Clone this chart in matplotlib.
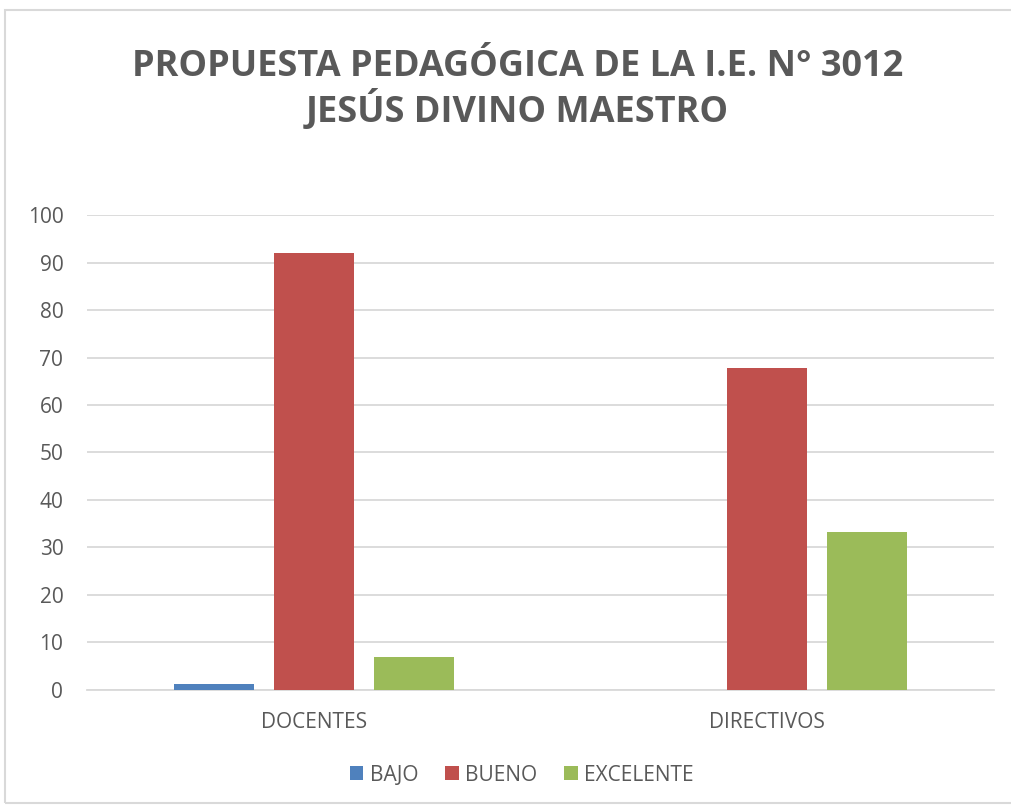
import matplotlib.pyplot as plt
import numpy as np
from matplotlib.patches import Rectangle

categories = ["DOCENTES", "DIRECTIVOS"]
series = ["BAJO", "BUENO", "EXCELENTE"]
bajo = [1.3, 0]
bueno = [92, 67.7]
excelente = [7, 33.3]
yticks = list(range(0, 101, 10))

colors = ["#4F81BD", "#C0504D", "#9BBB59"]
text_color = "#595959"
font = "Open Sans"

fig = plt.figure(figsize=(10.11, 8.05), dpi=100)
ax = fig.add_axes([0.086, 0.1429, 0.897, 0.590])

# chart border (Excel style)
fig.patches.append(Rectangle((0.005, 0.003), 1.2, 0.984, transform=fig.transFigure,
                             fill=False, edgecolor="#D9D9D9", linewidth=1.5))

x = np.arange(len(categories))
offsets = [-0.2205, 0, 0.2205]
width = 0.176
for vals, off, col, name in zip([bajo, bueno, excelente], offsets, colors, series):
    ax.bar(x + off, vals, width=width, color=col, label=name, zorder=3)

ax.set_xlim(-0.5, 1.5)
ax.set_ylim(0, 100)
ax.set_yticks(yticks)
ax.yaxis.grid(True, color="#D9D9D9", linewidth=1.3, zorder=0)
ax.set_axisbelow(True)
for s in ["top", "right", "left"]:
    ax.spines[s].set_visible(False)
ax.spines["bottom"].set_color("#D9D9D9")
ax.spines["bottom"].set_linewidth(1.3)
ax.tick_params(axis="both", length=0, colors=text_color, labelsize=15)
ax.tick_params(axis="y", pad=17)
ax.tick_params(axis="x", pad=16)
ax.set_xticks(x)
ax.set_xticklabels(categories, fontfamily=font)
for lbl in ax.get_yticklabels():
    lbl.set_fontfamily(font)

fig.text(0.512, 0.888, "PROPUESTA PEDAGÓGICA DE LA I.E. N° 3012\nJESÚS DIVINO MAESTRO",
         ha="center", va="center", fontsize=26, fontweight="bold", color=text_color,
         family=font, linespacing=1.17)

leg = fig.legend(loc="center", bbox_to_anchor=(0.516, 0.037), ncol=3, frameon=False,
                 prop={"family": font, "size": 15}, handlelength=0.65, handleheight=0.65,
                 handletextpad=0.3, columnspacing=1.3)
for t in leg.get_texts():
    t.set_color(text_color)

fig.savefig("out.png", dpi=100)
